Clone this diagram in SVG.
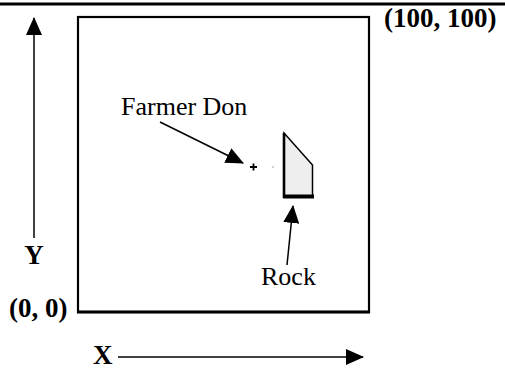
<svg xmlns="http://www.w3.org/2000/svg" width="505" height="369" viewBox="0 0 505 369">
<defs>
<style>
.bold{font-family:"Liberation Serif","Times New Roman",serif;font-weight:bold;font-size:27px;fill:#000}
.reg{font-family:"Liberation Serif","Times New Roman",serif;font-size:26px;fill:#000}
.ln{stroke:#000;fill:none}
</style>
<marker id="ah" viewBox="0 0 18 16" refX="17" refY="8" markerWidth="18" markerHeight="16" markerUnits="userSpaceOnUse" orient="auto">
<path d="M0,0 L18,8 L0,16 z" fill="#000"/>
</marker>
</defs>
<rect width="505" height="369" fill="#fff"/>
<line x1="0" y1="4" x2="505" y2="4" stroke="#000" stroke-width="3"/>
<g id="field">
<rect x="78" y="17" width="291" height="295" class="ln" stroke-width="2.2"/>
<line x1="77" y1="312" x2="370" y2="312" stroke="#000" stroke-width="3"/>
</g>
<g id="rock">
<path d="M284,133 L312.5,165 L312.5,197 L284,197 z" fill="#eeeeee" stroke="#000" stroke-width="1.5"/>
<line x1="284" y1="133" x2="284" y2="198" stroke="#000" stroke-width="2.6"/>
<line x1="283" y1="196.5" x2="314" y2="196.5" stroke="#000" stroke-width="4"/>
</g>
<g id="farmer">
<path d="M250,167 h7 M253.5,163.5 v7" stroke="#000" stroke-width="1.8"/>
<circle cx="273" cy="167" r="0.8" fill="#999"/>
</g>
<g id="labels">
<text class="reg" x="121" y="115">Farmer Don</text>
<text class="reg" x="261" y="285">Rock</text>
<text class="bold" x="34" y="264" text-anchor="middle">Y</text>
<text class="bold" x="9" y="317">(0, 0)</text>
<text class="bold" x="384" y="27">(100, 100)</text>
<text class="bold" x="93" y="364">X</text>
</g>
<g id="connectors">
<line x1="34" y1="238" x2="34" y2="18" class="ln" stroke-width="1.5" marker-end="url(#ah)"/>
<line x1="118" y1="357" x2="363" y2="357" class="ln" stroke-width="1.5" marker-end="url(#ah)"/>
<line x1="160" y1="122" x2="243" y2="163" class="ln" stroke-width="1.5" marker-end="url(#ah)"/>
<line x1="287" y1="265" x2="293" y2="206" class="ln" stroke-width="1.5" marker-end="url(#ah)"/>
</g>
</svg>
